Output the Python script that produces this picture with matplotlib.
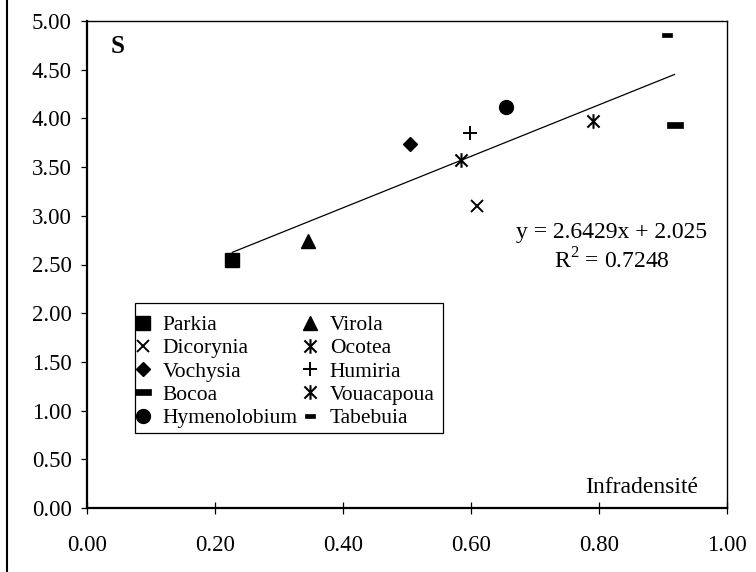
import matplotlib
matplotlib.use("Agg")
import matplotlib.pyplot as plt
from matplotlib.path import Path
from matplotlib.lines import Line2D
from matplotlib.patches import Rectangle
import numpy as np

plt.rcParams['font.family'] = ['Liberation Serif', 'DejaVu Serif']
plt.rcParams['mathtext.fontset'] = 'custom'
plt.rcParams['mathtext.rm'] = 'Liberation Serif'

# ---- data ----
species = ["Parkia", "Virola", "Dicorynia", "Ocotea", "Vochysia",
           "Humiria", "Bocoa", "Vouacapoua", "Hymenolobium", "Tabebuia"]
infradensite = [0.227, 0.345, 0.609, 0.585, 0.505, 0.598, 0.918, 0.790, 0.654, 0.906]
S_values = [2.55, 2.74, 3.10, 3.57, 3.74, 3.85, 3.93, 3.97, 4.12, 4.86]
slope = 2.6429
intercept = 2.025
r2 = 0.7248
xticks = [0.0, 0.2, 0.4, 0.6, 0.8, 1.0]
yticks = [0.0, 0.5, 1.0, 1.5, 2.0, 2.5, 3.0, 3.5, 4.0, 4.5, 5.0]

# ---- custom markers ----
star_path = Path([(-1, -1), (1, 1), (-1, 1), (1, -1), (0, -1.2), (0, 1.2)],
                 [Path.MOVETO, Path.LINETO, Path.MOVETO, Path.LINETO, Path.MOVETO, Path.LINETO])
wide_dash = Path([(-1, -0.38), (1, -0.38), (1, 0.38), (-1, 0.38), (-1, -0.38)],
                 [Path.MOVETO, Path.LINETO, Path.LINETO, Path.LINETO, Path.CLOSEPOLY])
small_dash = Path([(-1, -0.5), (1, -0.5), (1, 0.5), (-1, 0.5), (-1, -0.5)],
                  [Path.MOVETO, Path.LINETO, Path.LINETO, Path.LINETO, Path.CLOSEPOLY])

styles = {
    "Parkia": dict(marker='s', ms=10, mfc='black', mec='black'),
    "Virola": dict(marker='^', ms=10, mfc='black', mec='black'),
    "Dicorynia": dict(marker='x', ms=9, mfc='none', mec='black', mew=1.4),
    "Ocotea": dict(marker=star_path, ms=10.5, mfc='none', mec='black', mew=1.5),
    "Vochysia": dict(marker='D', ms=7, mfc='black', mec='black'),
    "Humiria": dict(marker='+', ms=10, mfc='none', mec='black', mew=1.4),
    "Bocoa": dict(marker=wide_dash, ms=11.5, mfc='black', mec='black', mew=0.5),
    "Vouacapoua": dict(marker=star_path, ms=10.5, mfc='none', mec='black', mew=1.5),
    "Hymenolobium": dict(marker='o', ms=10, mfc='black', mec='black'),
    "Tabebuia": dict(marker=small_dash, ms=7, mfc='black', mec='black', mew=0.5),
}

fig = plt.figure(figsize=(7.56, 5.72), dpi=100)
ax = fig.add_axes([87/756, 1 - 508/572, 640/756, 487/572])

handles = {}
for name, xv, yv in zip(species, infradensite, S_values):
    h, = ax.plot([xv], [yv], linestyle='none', label=name, **styles[name])
    handles[name] = h

# trend line
xl = np.array([min(infradensite), max(infradensite)])
ax.plot(xl, slope * xl + intercept, color='black', lw=0.9)

ax.set_xlim(0, 1)
ax.set_ylim(0, 5)
ax.set_xticks(xticks)
ax.set_yticks(yticks)
ax.set_xticklabels([f"{v:.2f}" for v in xticks])
ax.set_yticklabels([f"{v:.2f}" for v in yticks])
ax.tick_params(axis='x', direction='inout', length=9, width=0.9, pad=15, labelsize=16.5)
ax.tick_params(axis='y', direction='out', length=4, width=0.9, pad=7, labelsize=16.5)
for s in ['left', 'bottom']:
    ax.spines[s].set_linewidth(1.6)
for s in ['top', 'right']:
    ax.spines[s].set_linewidth(1.0)

ax.text(0.048, 0.948, "S", transform=ax.transAxes, fontsize=18, fontweight='bold',
        ha='center', va='center')
ax.text(0.955, 0.043, "Infradensité", transform=ax.transAxes, fontsize=17,
        ha='right', va='center')
ax.text(0.82, 0.566, f"y = {slope}x + {intercept}", transform=ax.transAxes,
        fontsize=17, ha='center', va='center')
ax.text(0.82, 0.508, r"R$^{2}$" + f" = {r2}", transform=ax.transAxes,
        fontsize=17, ha='center', va='center')

# legend box (drawn separately to match the original padding)
ax.add_patch(Rectangle((0.075, 0.154), 0.481, 0.267, transform=ax.transAxes,
                       facecolor='white', edgecolor='black', lw=0.9, zorder=4))
order = ["Parkia", "Dicorynia", "Vochysia", "Bocoa", "Hymenolobium",
         "Virola", "Ocotea", "Humiria", "Vouacapoua", "Tabebuia"]
leg = ax.legend([handles[n] for n in order], order, ncol=2, loc='upper left',
                bbox_to_anchor=(0.0773, 0.3963), fontsize=15.5, frameon=False,
                handlelength=0.6, handletextpad=0.6, columnspacing=0.3,
                labelspacing=0.15, borderpad=0.0, borderaxespad=0)
leg.set_zorder(5)

fig.add_artist(Line2D([7/756, 7/756], [0, 1], transform=fig.transFigure,
                      color='black', lw=1.5))

fig.savefig("out.png", dpi=100)
